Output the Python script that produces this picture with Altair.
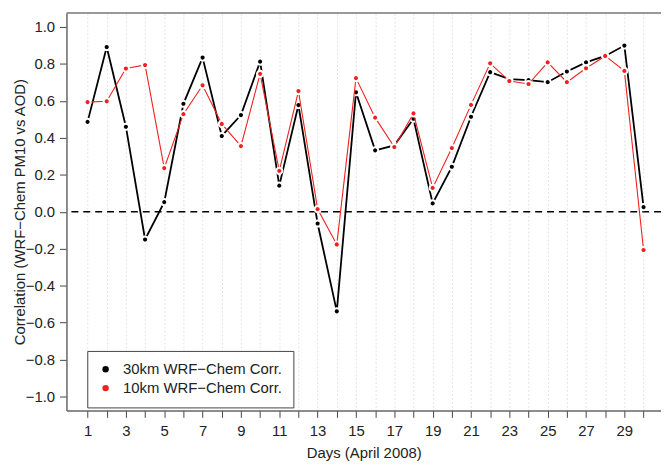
import altair as alt
import pandas as pd

days = list(range(1, 31))
corr_30km = [0.486, 0.891, 0.460, -0.150, 0.052, 0.584, 0.834, 0.410, 0.523, 0.812,
             0.141, 0.577, -0.064, -0.539, 0.646, 0.332, 0.359, 0.503, 0.045, 0.243,
             0.514, 0.755, 0.717, 0.712, 0.701, 0.759, 0.808, 0.843, 0.899, 0.025]
corr_10km = [0.593, 0.598, 0.775, 0.794, 0.236, 0.528, 0.684, 0.475, 0.355, 0.746,
             0.221, 0.653, 0.014, -0.177, 0.723, 0.509, 0.350, 0.532, 0.129, 0.345,
             0.578, 0.803, 0.707, 0.691, 0.808, 0.701, 0.776, 0.843, 0.762, -0.207]
series_names = ["30km WRF\u2212Chem Corr.", "10km WRF\u2212Chem Corr."]
series_colors = ["#000000", "#f02020"]
y_ticks = [-1.0, -0.8, -0.6, -0.4, -0.2, 0.0, 0.2, 0.4, 0.6, 0.8, 1.0]
zero_line = [0.0]

df = pd.DataFrame({
    "day": days + days,
    "corr": corr_30km + corr_10km,
    "series": [series_names[0]] * len(days) + [series_names[1]] * len(days),
})

FONT = "Liberation Sans"
FS = 15
W, H = 600, 401

x_enc = alt.X(
    "day:Q",
    scale=alt.Scale(domain=[-0.1, 30.91], nice=False, zero=False),
    axis=alt.Axis(
        values=days,
        labelExpr="datum.value % 2 == 1 ? datum.label : ''",
        grid=True, gridColor="#e4e4e4", gridDash=[2, 2], gridWidth=1,
        domainColor="#666666", domainWidth=1.5,
        tickColor="#444444", tickSize=7, tickWidth=1,
        labelFontSize=FS, labelFont=FONT, labelColor="#222222", labelPadding=6,
        labelOverlap=False, labelFlush=False,
        titleFontSize=FS, titleFont=FONT, titleFontWeight="normal", titleColor="#222222",
        titleY=43, titleBaseline="middle",
    ),
    title="Days (April 2008)",
)
y_enc = alt.Y(
    "corr:Q",
    scale=alt.Scale(domain=[-1.075, 1.075], nice=False, zero=False),
    axis=alt.Axis(
        values=y_ticks, format=".1f", grid=False,
        domainColor="#666666", domainWidth=1.5,
        tickColor="#444444", tickSize=7, tickWidth=1,
        labelFontSize=FS, labelFont=FONT, labelColor="#222222", labelPadding=5,
        labelOverlap=False, labelFlush=False,
        titleFontSize=FS, titleFont=FONT, titleFontWeight="normal", titleColor="#222222",
        titleX=-47.5, titleY=H / 2, titleAngle=270, titleAlign="center",
        titleBaseline="middle",
    ),
    title="Correlation (WRF\u2212Chem PM10 vs AOD)",
)

color_enc = alt.Color(
    "series:N",
    scale=alt.Scale(domain=series_names, range=series_colors),
    legend=alt.Legend(
        orient="none", legendX=21, legendY=341, title=None,
        labelFontSize=FS, labelFont=FONT, labelColor="#222222", labelLimit=400,
        symbolType="circle", symbolSize=42, symbolStrokeWidth=0,
        strokeColor="#444444", fillColor="white", padding=11,
        rowPadding=3, labelOffset=10,
    ),
)

base = alt.Chart(df)

zero = alt.Chart(pd.DataFrame({"z": zero_line})).mark_rule(
    color="black", strokeDash=[7, 5], strokeWidth=1.5
).encode(y="z:Q")

top_border = alt.Chart(pd.DataFrame({"z": zero_line})).mark_rule(
    color="#777777", strokeWidth=1.5
).encode(x=alt.value(0), x2=alt.value(W), y=alt.value(0))

line30 = base.transform_filter(alt.datum.series == series_names[0]).mark_line(
    color=series_colors[0], strokeWidth=1.8
).encode(x=x_enc, y=y_enc)
line10 = base.transform_filter(alt.datum.series == series_names[1]).mark_line(
    color=series_colors[1], strokeWidth=1.1
).encode(x=x_enc, y=y_enc)

pts30 = base.transform_filter(alt.datum.series == series_names[0]).mark_circle(
    size=38, opacity=1, stroke="white", strokeWidth=2
).encode(x=x_enc, y=y_enc, color=color_enc)
pts10 = base.transform_filter(alt.datum.series == series_names[1]).mark_circle(
    size=38, opacity=1, stroke="white", strokeWidth=2
).encode(x=x_enc, y=y_enc, color=color_enc)

chart = alt.layer(zero, line30, pts30, line10, pts10, top_border).properties(
    width=W, height=H,
    padding={"left": 59, "top": 3, "right": 0, "bottom": 51},
    autosize=alt.AutoSizeParams(type="none"),
    background="white",
).configure_view(stroke=None)

chart.save("out.html", embed_options={"renderer": "svg", "actions": False})
